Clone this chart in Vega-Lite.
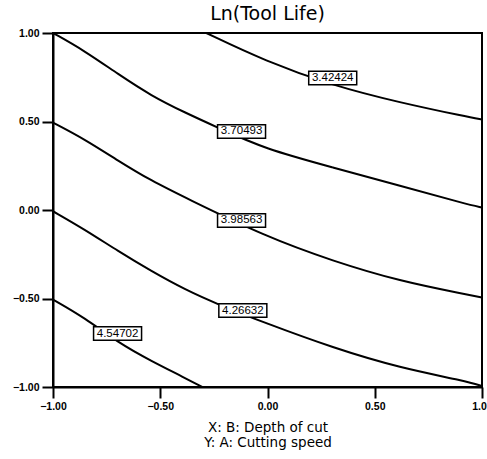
{
  "$schema": "https://vega.github.io/schema/vega-lite/v6.json",
  "width": 429,
  "height": 354,
  "autosize": {"type": "none"},
  "padding": {"left": 53, "top": 33, "right": 5, "bottom": 72},
  "background": "white",
  "title": {"text": "Ln(Tool Life)", "fontSize": 19, "font": "DejaVu Sans", "fontWeight": "normal", "offset": 4, "color": "black"},
  "config": {
    "view": {"stroke": "black", "strokeWidth": 2},
    "axis": {
      "domainColor": "black", "domainWidth": 2, "tickColor": "black", "tickWidth": 2, "tickSize": 11,
      "labelFont": "Liberation Sans", "labelFontWeight": "bold", "labelFontSize": 10.5, "labelColor": "black",
      "grid": false, "titleFont": "DejaVu Sans", "titleFontWeight": "normal", "titleFontSize": 13.5, "titleColor": "black"
    }
  },
  "datasets": {
    "curves": [
      {"level": "3.42424", "i": 0, "x": -0.285, "y": 1.0},
      {"level": "3.42424", "i": 1, "x": -0.013, "y": 0.843},
      {"level": "3.42424", "i": 2, "x": 0.306, "y": 0.702},
      {"level": "3.42424", "i": 3, "x": 0.617, "y": 0.607},
      {"level": "3.42424", "i": 4, "x": 0.928, "y": 0.527},
      {"level": "3.42424", "i": 5, "x": 1.0, "y": 0.511},
      {"level": "3.70493", "i": 0, "x": -1.0, "y": 1.0},
      {"level": "3.70493", "i": 1, "x": -0.852, "y": 0.899},
      {"level": "3.70493", "i": 2, "x": -0.696, "y": 0.767},
      {"level": "3.70493", "i": 3, "x": -0.541, "y": 0.645},
      {"level": "3.70493", "i": 4, "x": -0.386, "y": 0.551},
      {"level": "3.70493", "i": 5, "x": -0.23, "y": 0.465},
      {"level": "3.70493", "i": 6, "x": -0.013, "y": 0.345},
      {"level": "3.70493", "i": 7, "x": 0.306, "y": 0.24},
      {"level": "3.70493", "i": 8, "x": 0.617, "y": 0.137},
      {"level": "3.70493", "i": 9, "x": 0.928, "y": 0.033},
      {"level": "3.70493", "i": 10, "x": 1.0, "y": 0.014},
      {"level": "3.98563", "i": 0, "x": -1.0, "y": 0.494},
      {"level": "3.98563", "i": 1, "x": -0.852, "y": 0.4},
      {"level": "3.98563", "i": 2, "x": -0.696, "y": 0.278},
      {"level": "3.98563", "i": 3, "x": -0.541, "y": 0.165},
      {"level": "3.98563", "i": 4, "x": -0.386, "y": 0.071},
      {"level": "3.98563", "i": 5, "x": -0.013, "y": -0.148},
      {"level": "3.98563", "i": 6, "x": 0.306, "y": -0.289},
      {"level": "3.98563", "i": 7, "x": 0.617, "y": -0.402},
      {"level": "3.98563", "i": 8, "x": 0.928, "y": -0.477},
      {"level": "3.98563", "i": 9, "x": 1.0, "y": -0.494},
      {"level": "4.26632", "i": 0, "x": -1.0, "y": -0.007},
      {"level": "4.26632", "i": 1, "x": -0.852, "y": -0.11},
      {"level": "4.26632", "i": 2, "x": -0.696, "y": -0.233},
      {"level": "4.26632", "i": 3, "x": -0.541, "y": -0.346},
      {"level": "4.26632", "i": 4, "x": -0.386, "y": -0.449},
      {"level": "4.26632", "i": 5, "x": -0.23, "y": -0.534},
      {"level": "4.26632", "i": 6, "x": -0.013, "y": -0.637},
      {"level": "4.26632", "i": 7, "x": 0.306, "y": -0.779},
      {"level": "4.26632", "i": 8, "x": 0.617, "y": -0.892},
      {"level": "4.26632", "i": 9, "x": 0.928, "y": -0.967},
      {"level": "4.26632", "i": 10, "x": 1.0, "y": -0.995},
      {"level": "4.54702", "i": 0, "x": -1.0, "y": -0.506},
      {"level": "4.54702", "i": 1, "x": -0.852, "y": -0.609},
      {"level": "4.54702", "i": 2, "x": -0.696, "y": -0.75},
      {"level": "4.54702", "i": 3, "x": -0.541, "y": -0.854},
      {"level": "4.54702", "i": 4, "x": -0.386, "y": -0.948},
      {"level": "4.54702", "i": 5, "x": -0.305, "y": -1.0}
    ],
    "labels": [
      {"label": "3.42424", "x": 0.304, "y": 0.746},
      {"label": "3.70493", "x": -0.121, "y": 0.444},
      {"label": "3.98563", "x": -0.121, "y": -0.059},
      {"label": "4.26632", "x": -0.115, "y": -0.568},
      {"label": "4.54702", "x": -0.699, "y": -0.698}
    ]
  },
  "layer": [
    {
      "data": {"name": "curves"},
      "mark": {"type": "line", "color": "black", "strokeWidth": 2, "clip": true, "interpolate": "basis"},
      "encoding": {
        "x": {"field": "x", "type": "quantitative",
              "scale": {"domain": [-1, 1], "nice": false, "zero": false},
              "axis": {"values": [-1, -0.5, 0, 0.5, 1], "format": ".2f", "labelPadding": 3, "labelFlush": false,
                       "title": ["X: B: Depth of cut", "Y: A: Cutting speed"], "titlePadding": 9, "titleLineHeight": 15}},
        "y": {"field": "y", "type": "quantitative",
              "scale": {"domain": [-1, 1], "nice": false, "zero": false},
              "axis": {"values": [-1, -0.5, 0, 0.5, 1], "format": ".2f", "labelPadding": 3, "labelFlush": false, "title": null}},
        "detail": {"field": "level"},
        "order": {"field": "i"}
      }
    },
    {
      "data": {"name": "labels"},
      "mark": {"type": "point", "shape": "M-1,-0.28H1V0.28H-1Z", "size": 2304, "filled": true, "fill": "white", "stroke": "black", "strokeWidth": 1.5, "opacity": 1},
      "encoding": {
        "x": {"field": "x", "type": "quantitative"},
        "y": {"field": "y", "type": "quantitative"}
      }
    },
    {
      "data": {"name": "labels"},
      "mark": {"type": "text", "font": "Liberation Sans", "fontSize": 11.5, "color": "black", "baseline": "middle", "align": "center"},
      "encoding": {
        "x": {"field": "x", "type": "quantitative"},
        "y": {"field": "y", "type": "quantitative"},
        "text": {"field": "label"}
      }
    }
  ]
}
